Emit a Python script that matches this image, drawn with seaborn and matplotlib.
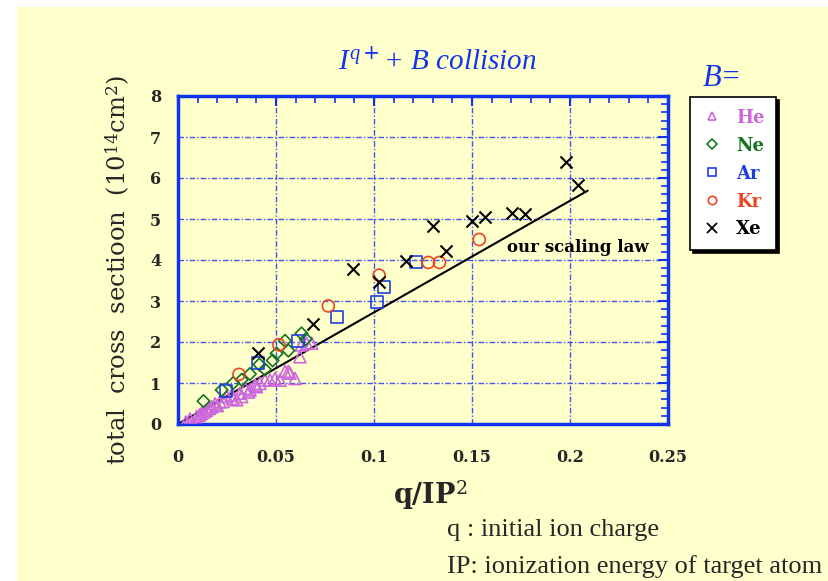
import numpy as np
import pandas as pd
import matplotlib
matplotlib.use("Agg")
import matplotlib.pyplot as plt
import seaborn as sns
from matplotlib.lines import Line2D
from matplotlib.patches import Rectangle
from matplotlib.ticker import MultipleLocator

# ---------------- data ----------------
he_x = [0.004, 0.006, 0.0078, 0.0061, 0.0095, 0.011, 0.0121, 0.0135, 0.0146, 0.016,
        0.0172, 0.0189, 0.0214, 0.0248, 0.0274, 0.0299, 0.0316, 0.0325, 0.0342, 0.0367,
        0.0393, 0.0418, 0.0444, 0.0469, 0.0495, 0.052, 0.0546, 0.0563, 0.0571, 0.0597,
        0.0622, 0.063, 0.0656, 0.0682, 0.020, 0.023, 0.028, 0.036, 0.040]
he_y = [0.05, 0.0, 0.0, 0.12, 0.18, 0.22, 0.26, 0.30, 0.34, 0.38,
        0.42, 0.49, 0.54, 0.67, 0.71, 0.59, 0.75, 0.67, 0.87, 0.83,
        0.95, 0.99, 1.07, 1.07, 1.11, 1.07, 1.28, 1.28, 1.24, 1.11,
        1.64, 1.93, 1.97, 1.97, 0.45, 0.55, 0.62, 0.78, 0.91]
ne_x = [0.013, 0.0223, 0.0282, 0.0325, 0.0367, 0.0415, 0.0444, 0.0483, 0.0503, 0.0546,
        0.0563, 0.063, 0.0652]
ne_y = [0.56, 0.83, 1.00, 1.08, 1.22, 1.45, 1.33, 1.55, 1.72, 2.03,
        1.79, 2.21, 2.07]
ar_x = [0.0245, 0.041, 0.0611, 0.081, 0.1017, 0.1051, 0.1214]
ar_y = [0.80, 1.48, 2.03, 2.62, 2.98, 3.33, 3.94]
kr_x = [0.0311, 0.0515, 0.0767, 0.1026, 0.1277, 0.1334, 0.1537]
kr_y = [1.21, 1.93, 2.88, 3.63, 3.94, 3.94, 4.50]
xe_x = [0.041, 0.0687, 0.0891, 0.1026, 0.1163, 0.130, 0.1367, 0.150, 0.1568, 0.1702,
        0.177, 0.198, 0.2043]
xe_y = [1.73, 2.44, 3.77, 3.47, 3.98, 4.84, 4.22, 4.96, 5.06, 5.15,
        5.12, 6.40, 5.83]
law_x = [0.0, 0.209]
law_y = [0.0, 5.69]

gases = ["He", "Ne", "Ar", "Kr", "Xe"]
xs = [he_x, ne_x, ar_x, kr_x, xe_x]
ys = [he_y, ne_y, ar_y, kr_y, xe_y]
x_ticks = [0, 0.05, 0.1, 0.15, 0.2, 0.25]
x_ticklabels = ["0", "0.05", "0.1", "0.15", "0.2", "0.25"]
y_ticks = [0, 1, 2, 3, 4, 5, 6, 7, 8]

# ---------------- style ----------------
colors = {"He": "#CC66DD", "Ne": "#11741F", "Ar": "#1F3FDD", "Kr": "#EE4422", "Xe": "#000000"}
markers = {"He": "^", "Ne": "D", "Ar": "s", "Kr": "o", "Xe": "x"}
msizes = {"He": 75, "Ne": 40, "Ar": 75, "Kr": 75, "Xe": 75}

sns.set_theme(style="white")
plt.rcParams["font.family"] = ["DejaVu Serif"]
plt.rcParams["mathtext.fontset"] = "custom"
plt.rcParams["mathtext.rm"] = "DejaVu Serif"
plt.rcParams["mathtext.bf"] = "DejaVu Serif:bold"
plt.rcParams["mathtext.it"] = "Liberation Serif:italic"

BG = "#FFFFCC"
BLUE = "#1133EE"

fig = plt.figure(figsize=(8.29, 5.81), dpi=100, facecolor="white")
fig.patches.append(Rectangle((17 / 829, 0), 1 - 17 / 829, 1 - 7 / 581,
                             transform=fig.transFigure, facecolor=BG,
                             edgecolor="none", zorder=-10))

ax = fig.add_axes([178 / 829, 1 - 424 / 581, 490 / 829, 328 / 581])
ax.set_facecolor(BG)

for g, x, y in zip(gases, xs, ys):
    df = pd.DataFrame({"x": x, "y": y})
    if markers[g] == "x":
        sns.scatterplot(data=df, x="x", y="y", ax=ax, marker="x", color=colors[g],
                        s=msizes[g], linewidth=1.5, zorder=3)
    else:
        sns.scatterplot(data=df, x="x", y="y", ax=ax, marker=markers[g],
                        facecolors="none", edgecolor=colors[g], s=msizes[g],
                        linewidth=1.2, zorder=3)

sns.lineplot(x=law_x, y=law_y, ax=ax, color="black", linewidth=1.5, zorder=2)

ax.set_xlim(0, 0.25)
ax.set_ylim(0, 8)
ax.set_xticks(x_ticks)
ax.set_xticklabels(x_ticklabels)
ax.set_yticks(y_ticks)
ax.xaxis.set_minor_locator(MultipleLocator(0.01))
ax.yaxis.set_minor_locator(MultipleLocator(0.2))
ax.tick_params(axis="both", which="both", direction="in", color=BLUE,
               top=True, right=True, labelsize=11.5)
ax.tick_params(axis="x", which="major", pad=18)
ax.tick_params(axis="y", which="major", pad=12)
ax.tick_params(which="major", length=7, width=1.5)
ax.tick_params(which="minor", length=5, width=1.2)
for lab in ax.get_xticklabels() + ax.get_yticklabels():
    lab.set_fontweight("bold")
for sp in ax.spines.values():
    sp.set_color(BLUE)
    sp.set_linewidth(2.5)
ax.grid(True, which="major", color="#4455EE", linestyle=(0, (4, 1.5, 1, 1.5)),
        linewidth=1.0)
ax.set_xlabel("")
ax.set_ylabel("")

ax.text(0.168, 4.3, "our scaling law", fontsize=12, fontweight="bold",
        ha="left", va="center", color="black")

# titles / labels
fig.text(437 / 829, 1 - 62 / 581, r"$I^{q+}$+ B collision", color=BLUE,
         family="Liberation Serif", style="italic", fontsize=21,
         ha="center", va="center")
fig.text(722 / 829, 1 - 78 / 581, "B=", color=BLUE, family="Liberation Serif",
         style="italic", fontsize=22, ha="center", va="center")
fig.text(118 / 829, 1 - 270 / 581, r"total  cross  sectioon  (10$^{14}$cm$^{2}$)",
         rotation=90, fontsize=17.5, ha="center", va="center")
fig.text(430 / 829, 1 - 495 / 581, r"q/IP$^{2}$", fontsize=19.5, fontweight="bold",
         ha="center", va="center")
fig.text(447 / 829, 1 - 530 / 581, "q : initial ion charge",
         family="Liberation Serif", fontsize=19, ha="left", va="center")
fig.text(447 / 829, 1 - 567 / 581, "IP: ionization energy of target atom",
         family="Liberation Serif", fontsize=19, ha="left", va="center")

# legend
handles = []
for g in gases:
    if markers[g] == "x":
        h = Line2D([], [], linestyle="none", marker="x", color=colors[g],
                   markersize=7, markeredgewidth=1.3)
    else:
        h = Line2D([], [], linestyle="none", marker=markers[g], markersize=6 if g != "Ne" else 5,
                   markerfacecolor="none", markeredgecolor=colors[g], markeredgewidth=1.2)
    handles.append(h)
leg = fig.legend(handles, gases, loc="upper left",
                 bbox_to_anchor=(690 / 829, 1 - 97 / 581),
                 bbox_transform=fig.transFigure, frameon=True, fancybox=False,
                 borderaxespad=0.0,
                 shadow={"color": "black", "alpha": 1.0}, prop={"weight": "bold", "size": 13},
                 labelspacing=0.55, handletextpad=0.8, borderpad=0.65, handlelength=1.1)
leg.get_frame().set_edgecolor("black")
leg.get_frame().set_linewidth(1.2)
leg.get_frame().set_facecolor("white")
for t, g in zip(leg.get_texts(), gases):
    t.set_color(colors[g])

fig.savefig("out.png", dpi=100, facecolor=fig.get_facecolor())
